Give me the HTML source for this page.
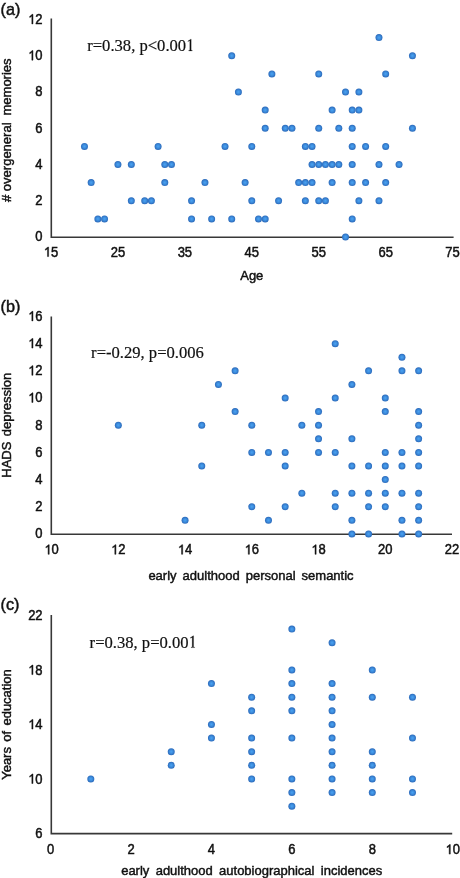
<!DOCTYPE html><html><head><meta charset="utf-8"><style>
html,body{margin:0;padding:0;background:#fff;width:460px;height:878px;overflow:hidden}
svg{display:block;will-change:transform}
.s{font-family:"Liberation Sans",sans-serif;font-size:13px;fill:#111;stroke:#111;stroke-width:0.45px}
.t{font-family:"Liberation Serif",serif;font-size:16.6px;fill:#111;stroke:#111;stroke-width:0.2px}
</style></head><body>
<svg width="460" height="878" viewBox="0 0 460 878">
<defs><path id="one" transform="scale(0.006348 -0.006348)" fill="#111" stroke="#111" stroke-width="70" d="M763 0L583 0L583 1147Q518 1085 415 1024Q312 963 244 938L244 1112Q367 1170 467 1259Q568 1348 628 1409L763 1409Z"/><path id="sone" transform="scale(0.0081055 -0.0081055)" fill="#111" stroke="#111" stroke-width="25" d="M627 80L760 58V0H320V58L455 80V1174L220 1090V1135L575 1352H627Z"/><radialGradient id="dg"><stop offset="0" stop-color="#4aa2f4"/><stop offset="0.5" stop-color="#3d8ddc"/><stop offset="0.85" stop-color="#3073c5"/><stop offset="1" stop-color="#2b6ab9"/></radialGradient></defs>

<text class="s" x="0.6" y="14.6" style="font-size:16.2px">(a)</text>
<path d="M51.3 18.6V237.2H453.6" fill="none" stroke="#383838" stroke-width="1.6"/>
<g transform="translate(35.37 241.40) scale(1 1.07)"><text class="s" x="0.00" y="0">0</text></g>
<g transform="translate(35.37 205.15) scale(1 1.07)"><text class="s" x="0.00" y="0">2</text></g>
<g transform="translate(35.37 168.90) scale(1 1.07)"><text class="s" x="0.00" y="0">4</text></g>
<g transform="translate(35.37 132.65) scale(1 1.07)"><text class="s" x="0.00" y="0">6</text></g>
<g transform="translate(35.37 96.40) scale(1 1.07)"><text class="s" x="0.00" y="0">8</text></g>
<g transform="translate(28.14 60.15) scale(1 1.07)"><use href="#one" x="0.00"/><text class="s" x="7.23" y="0">0</text></g>
<g transform="translate(28.14 23.90) scale(1 1.07)"><use href="#one" x="0.00"/><text class="s" x="7.23" y="0">2</text></g>
<g transform="translate(43.77 256.60) scale(1 1.07)"><use href="#one" x="0.00"/><text class="s" x="7.23" y="0">5</text></g>
<g transform="translate(110.70 256.60) scale(1 1.07)"><text class="s" x="0.00" y="0">2</text><text class="s" x="7.23" y="0">5</text></g>
<g transform="translate(177.64 256.60) scale(1 1.07)"><text class="s" x="0.00" y="0">3</text><text class="s" x="7.23" y="0">5</text></g>
<g transform="translate(244.57 256.60) scale(1 1.07)"><text class="s" x="0.00" y="0">4</text><text class="s" x="7.23" y="0">5</text></g>
<g transform="translate(311.50 256.60) scale(1 1.07)"><text class="s" x="0.00" y="0">5</text><text class="s" x="7.23" y="0">5</text></g>
<g transform="translate(378.44 256.60) scale(1 1.07)"><text class="s" x="0.00" y="0">6</text><text class="s" x="7.23" y="0">5</text></g>
<g transform="translate(445.37 256.60) scale(1 1.07)"><text class="s" x="0.00" y="0">7</text><text class="s" x="7.23" y="0">5</text></g>
<text class="s" transform="translate(11.2 130.2) rotate(-90)" text-anchor="middle" style="word-spacing:0px"># overgeneral<tspan dx="7">memories</tspan></text>
<text class="s" x="251.8" y="280.0" text-anchor="middle" style="word-spacing:0px">Age</text>
<g transform="translate(87.2 50.9) scale(1 1.07)"><text class="t" x="0" y="0">r=0.38, p&lt;0.00</text><use href="#sone" x="98.906"/></g>
<circle cx="84.47" cy="146.38" r="3.5" fill="url(#dg)"/>
<circle cx="91.16" cy="182.62" r="3.5" fill="url(#dg)"/>
<circle cx="97.85" cy="218.88" r="3.5" fill="url(#dg)"/>
<circle cx="104.55" cy="218.88" r="3.5" fill="url(#dg)"/>
<circle cx="117.93" cy="164.50" r="3.5" fill="url(#dg)"/>
<circle cx="131.32" cy="164.50" r="3.5" fill="url(#dg)"/>
<circle cx="131.32" cy="200.75" r="3.5" fill="url(#dg)"/>
<circle cx="144.71" cy="200.75" r="3.5" fill="url(#dg)"/>
<circle cx="151.40" cy="200.75" r="3.5" fill="url(#dg)"/>
<circle cx="158.09" cy="146.38" r="3.5" fill="url(#dg)"/>
<circle cx="164.79" cy="164.50" r="3.5" fill="url(#dg)"/>
<circle cx="171.48" cy="164.50" r="3.5" fill="url(#dg)"/>
<circle cx="164.79" cy="182.62" r="3.5" fill="url(#dg)"/>
<circle cx="191.56" cy="200.75" r="3.5" fill="url(#dg)"/>
<circle cx="191.56" cy="218.88" r="3.5" fill="url(#dg)"/>
<circle cx="204.95" cy="182.62" r="3.5" fill="url(#dg)"/>
<circle cx="211.64" cy="218.88" r="3.5" fill="url(#dg)"/>
<circle cx="225.03" cy="146.38" r="3.5" fill="url(#dg)"/>
<circle cx="231.72" cy="218.88" r="3.5" fill="url(#dg)"/>
<circle cx="245.11" cy="182.62" r="3.5" fill="url(#dg)"/>
<circle cx="251.80" cy="146.38" r="3.5" fill="url(#dg)"/>
<circle cx="251.80" cy="200.75" r="3.5" fill="url(#dg)"/>
<circle cx="258.49" cy="218.88" r="3.5" fill="url(#dg)"/>
<circle cx="265.19" cy="218.88" r="3.5" fill="url(#dg)"/>
<circle cx="265.19" cy="110.12" r="3.5" fill="url(#dg)"/>
<circle cx="265.19" cy="128.25" r="3.5" fill="url(#dg)"/>
<circle cx="278.57" cy="200.75" r="3.5" fill="url(#dg)"/>
<circle cx="285.27" cy="128.25" r="3.5" fill="url(#dg)"/>
<circle cx="291.96" cy="128.25" r="3.5" fill="url(#dg)"/>
<circle cx="305.35" cy="146.38" r="3.5" fill="url(#dg)"/>
<circle cx="298.65" cy="182.62" r="3.5" fill="url(#dg)"/>
<circle cx="305.35" cy="182.62" r="3.5" fill="url(#dg)"/>
<circle cx="305.35" cy="200.75" r="3.5" fill="url(#dg)"/>
<circle cx="231.72" cy="55.75" r="3.5" fill="url(#dg)"/>
<circle cx="271.88" cy="73.88" r="3.5" fill="url(#dg)"/>
<circle cx="238.41" cy="92.00" r="3.5" fill="url(#dg)"/>
<circle cx="378.97" cy="37.62" r="3.5" fill="url(#dg)"/>
<circle cx="412.44" cy="55.75" r="3.5" fill="url(#dg)"/>
<circle cx="318.73" cy="73.88" r="3.5" fill="url(#dg)"/>
<circle cx="385.67" cy="73.88" r="3.5" fill="url(#dg)"/>
<circle cx="345.51" cy="92.00" r="3.5" fill="url(#dg)"/>
<circle cx="358.89" cy="92.00" r="3.5" fill="url(#dg)"/>
<circle cx="332.12" cy="110.12" r="3.5" fill="url(#dg)"/>
<circle cx="352.20" cy="110.12" r="3.5" fill="url(#dg)"/>
<circle cx="358.89" cy="110.12" r="3.5" fill="url(#dg)"/>
<circle cx="318.73" cy="128.25" r="3.5" fill="url(#dg)"/>
<circle cx="338.81" cy="128.25" r="3.5" fill="url(#dg)"/>
<circle cx="352.20" cy="128.25" r="3.5" fill="url(#dg)"/>
<circle cx="412.44" cy="128.25" r="3.5" fill="url(#dg)"/>
<circle cx="312.04" cy="146.38" r="3.5" fill="url(#dg)"/>
<circle cx="352.20" cy="146.38" r="3.5" fill="url(#dg)"/>
<circle cx="365.59" cy="146.38" r="3.5" fill="url(#dg)"/>
<circle cx="385.67" cy="146.38" r="3.5" fill="url(#dg)"/>
<circle cx="312.04" cy="164.50" r="3.5" fill="url(#dg)"/>
<circle cx="318.73" cy="164.50" r="3.5" fill="url(#dg)"/>
<circle cx="325.43" cy="164.50" r="3.5" fill="url(#dg)"/>
<circle cx="332.12" cy="164.50" r="3.5" fill="url(#dg)"/>
<circle cx="338.81" cy="164.50" r="3.5" fill="url(#dg)"/>
<circle cx="352.20" cy="164.50" r="3.5" fill="url(#dg)"/>
<circle cx="378.97" cy="164.50" r="3.5" fill="url(#dg)"/>
<circle cx="399.05" cy="164.50" r="3.5" fill="url(#dg)"/>
<circle cx="312.04" cy="182.62" r="3.5" fill="url(#dg)"/>
<circle cx="332.12" cy="182.62" r="3.5" fill="url(#dg)"/>
<circle cx="352.20" cy="182.62" r="3.5" fill="url(#dg)"/>
<circle cx="365.59" cy="182.62" r="3.5" fill="url(#dg)"/>
<circle cx="385.67" cy="182.62" r="3.5" fill="url(#dg)"/>
<circle cx="318.73" cy="200.75" r="3.5" fill="url(#dg)"/>
<circle cx="325.43" cy="200.75" r="3.5" fill="url(#dg)"/>
<circle cx="358.89" cy="200.75" r="3.5" fill="url(#dg)"/>
<circle cx="378.97" cy="200.75" r="3.5" fill="url(#dg)"/>
<circle cx="352.20" cy="218.88" r="3.5" fill="url(#dg)"/>
<circle cx="345.51" cy="237.00" r="3.5" fill="url(#dg)"/>
<text class="s" x="0.6" y="312.4" style="font-size:16.2px">(b)</text>
<path d="M51.3 316.6V534.3H452.0" fill="none" stroke="#383838" stroke-width="1.6"/>
<g transform="translate(35.37 538.30) scale(1 1.07)"><text class="s" x="0.00" y="0">0</text></g>
<g transform="translate(35.37 511.12) scale(1 1.07)"><text class="s" x="0.00" y="0">2</text></g>
<g transform="translate(35.37 483.95) scale(1 1.07)"><text class="s" x="0.00" y="0">4</text></g>
<g transform="translate(35.37 456.77) scale(1 1.07)"><text class="s" x="0.00" y="0">6</text></g>
<g transform="translate(35.37 429.60) scale(1 1.07)"><text class="s" x="0.00" y="0">8</text></g>
<g transform="translate(28.14 402.42) scale(1 1.07)"><use href="#one" x="0.00"/><text class="s" x="7.23" y="0">0</text></g>
<g transform="translate(28.14 375.25) scale(1 1.07)"><use href="#one" x="0.00"/><text class="s" x="7.23" y="0">2</text></g>
<g transform="translate(28.14 348.07) scale(1 1.07)"><use href="#one" x="0.00"/><text class="s" x="7.23" y="0">4</text></g>
<g transform="translate(28.14 320.90) scale(1 1.07)"><use href="#one" x="0.00"/><text class="s" x="7.23" y="0">6</text></g>
<g transform="translate(44.37 554.30) scale(1 1.07)"><use href="#one" x="0.00"/><text class="s" x="7.23" y="0">0</text></g>
<g transform="translate(111.10 554.30) scale(1 1.07)"><use href="#one" x="0.00"/><text class="s" x="7.23" y="0">2</text></g>
<g transform="translate(177.84 554.30) scale(1 1.07)"><use href="#one" x="0.00"/><text class="s" x="7.23" y="0">4</text></g>
<g transform="translate(244.57 554.30) scale(1 1.07)"><use href="#one" x="0.00"/><text class="s" x="7.23" y="0">6</text></g>
<g transform="translate(311.30 554.30) scale(1 1.07)"><use href="#one" x="0.00"/><text class="s" x="7.23" y="0">8</text></g>
<g transform="translate(378.04 554.30) scale(1 1.07)"><text class="s" x="0.00" y="0">2</text><text class="s" x="7.23" y="0">0</text></g>
<g transform="translate(444.77 554.30) scale(1 1.07)"><text class="s" x="0.00" y="0">2</text><text class="s" x="7.23" y="0">2</text></g>
<text class="s" transform="translate(11.2 425.2) rotate(-90)" text-anchor="middle" style="word-spacing:1.7px">HADS depression</text>
<text class="s" x="251.0" y="580.0" text-anchor="middle" style="word-spacing:2.4px">early adulthood personal semantic</text>
<g transform="translate(91.1 357.9) scale(1 1.07)"><text class="t" x="0" y="0">r=-0.29, p=0.006</text></g>
<circle cx="335.22" cy="343.68" r="3.5" fill="url(#dg)"/>
<circle cx="401.95" cy="357.26" r="3.5" fill="url(#dg)"/>
<circle cx="235.12" cy="370.85" r="3.5" fill="url(#dg)"/>
<circle cx="368.58" cy="370.85" r="3.5" fill="url(#dg)"/>
<circle cx="401.95" cy="370.85" r="3.5" fill="url(#dg)"/>
<circle cx="418.63" cy="370.85" r="3.5" fill="url(#dg)"/>
<circle cx="218.43" cy="384.44" r="3.5" fill="url(#dg)"/>
<circle cx="351.90" cy="384.44" r="3.5" fill="url(#dg)"/>
<circle cx="285.17" cy="398.02" r="3.5" fill="url(#dg)"/>
<circle cx="335.22" cy="398.02" r="3.5" fill="url(#dg)"/>
<circle cx="385.27" cy="398.02" r="3.5" fill="url(#dg)"/>
<circle cx="235.12" cy="411.61" r="3.5" fill="url(#dg)"/>
<circle cx="318.53" cy="411.61" r="3.5" fill="url(#dg)"/>
<circle cx="385.27" cy="411.61" r="3.5" fill="url(#dg)"/>
<circle cx="418.63" cy="411.61" r="3.5" fill="url(#dg)"/>
<circle cx="118.33" cy="425.20" r="3.5" fill="url(#dg)"/>
<circle cx="201.75" cy="425.20" r="3.5" fill="url(#dg)"/>
<circle cx="251.80" cy="425.20" r="3.5" fill="url(#dg)"/>
<circle cx="301.85" cy="425.20" r="3.5" fill="url(#dg)"/>
<circle cx="318.53" cy="425.20" r="3.5" fill="url(#dg)"/>
<circle cx="418.63" cy="425.20" r="3.5" fill="url(#dg)"/>
<circle cx="318.53" cy="438.79" r="3.5" fill="url(#dg)"/>
<circle cx="351.90" cy="438.79" r="3.5" fill="url(#dg)"/>
<circle cx="418.63" cy="438.79" r="3.5" fill="url(#dg)"/>
<circle cx="251.80" cy="452.38" r="3.5" fill="url(#dg)"/>
<circle cx="268.48" cy="452.38" r="3.5" fill="url(#dg)"/>
<circle cx="285.17" cy="452.38" r="3.5" fill="url(#dg)"/>
<circle cx="318.53" cy="452.38" r="3.5" fill="url(#dg)"/>
<circle cx="335.22" cy="452.38" r="3.5" fill="url(#dg)"/>
<circle cx="385.27" cy="452.38" r="3.5" fill="url(#dg)"/>
<circle cx="401.95" cy="452.38" r="3.5" fill="url(#dg)"/>
<circle cx="418.63" cy="452.38" r="3.5" fill="url(#dg)"/>
<circle cx="201.75" cy="465.96" r="3.5" fill="url(#dg)"/>
<circle cx="285.17" cy="465.96" r="3.5" fill="url(#dg)"/>
<circle cx="351.90" cy="465.96" r="3.5" fill="url(#dg)"/>
<circle cx="368.58" cy="465.96" r="3.5" fill="url(#dg)"/>
<circle cx="385.27" cy="465.96" r="3.5" fill="url(#dg)"/>
<circle cx="401.95" cy="465.96" r="3.5" fill="url(#dg)"/>
<circle cx="418.63" cy="465.96" r="3.5" fill="url(#dg)"/>
<circle cx="385.27" cy="479.55" r="3.5" fill="url(#dg)"/>
<circle cx="301.85" cy="493.14" r="3.5" fill="url(#dg)"/>
<circle cx="335.22" cy="493.14" r="3.5" fill="url(#dg)"/>
<circle cx="351.90" cy="493.14" r="3.5" fill="url(#dg)"/>
<circle cx="368.58" cy="493.14" r="3.5" fill="url(#dg)"/>
<circle cx="385.27" cy="493.14" r="3.5" fill="url(#dg)"/>
<circle cx="401.95" cy="493.14" r="3.5" fill="url(#dg)"/>
<circle cx="418.63" cy="493.14" r="3.5" fill="url(#dg)"/>
<circle cx="251.80" cy="506.72" r="3.5" fill="url(#dg)"/>
<circle cx="285.17" cy="506.72" r="3.5" fill="url(#dg)"/>
<circle cx="335.22" cy="506.72" r="3.5" fill="url(#dg)"/>
<circle cx="368.58" cy="506.72" r="3.5" fill="url(#dg)"/>
<circle cx="385.27" cy="506.72" r="3.5" fill="url(#dg)"/>
<circle cx="418.63" cy="506.72" r="3.5" fill="url(#dg)"/>
<circle cx="185.07" cy="520.31" r="3.5" fill="url(#dg)"/>
<circle cx="268.48" cy="520.31" r="3.5" fill="url(#dg)"/>
<circle cx="351.90" cy="520.31" r="3.5" fill="url(#dg)"/>
<circle cx="401.95" cy="520.31" r="3.5" fill="url(#dg)"/>
<circle cx="418.63" cy="520.31" r="3.5" fill="url(#dg)"/>
<circle cx="351.90" cy="533.90" r="3.5" fill="url(#dg)"/>
<circle cx="368.58" cy="533.90" r="3.5" fill="url(#dg)"/>
<circle cx="401.95" cy="533.90" r="3.5" fill="url(#dg)"/>
<circle cx="418.63" cy="533.90" r="3.5" fill="url(#dg)"/>
<text class="s" x="0.6" y="610.0" style="font-size:16.2px">(c)</text>
<path d="M51.3 615.0V833.6H452.2" fill="none" stroke="#383838" stroke-width="1.6"/>
<g transform="translate(35.37 838.00) scale(1 1.07)"><text class="s" x="0.00" y="0">6</text></g>
<g transform="translate(28.14 783.52) scale(1 1.07)"><use href="#one" x="0.00"/><text class="s" x="7.23" y="0">0</text></g>
<g transform="translate(28.14 729.05) scale(1 1.07)"><use href="#one" x="0.00"/><text class="s" x="7.23" y="0">4</text></g>
<g transform="translate(28.14 674.58) scale(1 1.07)"><use href="#one" x="0.00"/><text class="s" x="7.23" y="0">8</text></g>
<g transform="translate(28.14 620.10) scale(1 1.07)"><text class="s" x="0.00" y="0">2</text><text class="s" x="7.23" y="0">2</text></g>
<g transform="translate(46.99 854.10) scale(1 1.07)"><text class="s" x="0.00" y="0">0</text></g>
<g transform="translate(127.41 854.10) scale(1 1.07)"><text class="s" x="0.00" y="0">2</text></g>
<g transform="translate(207.83 854.10) scale(1 1.07)"><text class="s" x="0.00" y="0">4</text></g>
<g transform="translate(288.25 854.10) scale(1 1.07)"><text class="s" x="0.00" y="0">6</text></g>
<g transform="translate(368.67 854.10) scale(1 1.07)"><text class="s" x="0.00" y="0">8</text></g>
<g transform="translate(445.47 854.10) scale(1 1.07)"><use href="#one" x="0.00"/><text class="s" x="7.23" y="0">0</text></g>
<text class="s" transform="translate(11.2 724.5) rotate(-90)" text-anchor="middle" style="word-spacing:1.7px">Years of education</text>
<text class="s" x="251.7" y="875.0" text-anchor="middle" style="word-spacing:2.7px">early adulthood autobiographical incidences</text>
<g transform="translate(89.6 647.6) scale(1 1.07)"><text class="t" x="0" y="0">r=0.38, p=0.00</text><use href="#sone" x="98.906"/></g>
<circle cx="90.81" cy="778.92" r="3.5" fill="url(#dg)"/>
<circle cx="171.23" cy="751.69" r="3.5" fill="url(#dg)"/>
<circle cx="171.23" cy="765.31" r="3.5" fill="url(#dg)"/>
<circle cx="211.44" cy="683.59" r="3.5" fill="url(#dg)"/>
<circle cx="211.44" cy="724.45" r="3.5" fill="url(#dg)"/>
<circle cx="211.44" cy="738.07" r="3.5" fill="url(#dg)"/>
<circle cx="251.65" cy="697.21" r="3.5" fill="url(#dg)"/>
<circle cx="251.65" cy="710.83" r="3.5" fill="url(#dg)"/>
<circle cx="251.65" cy="738.07" r="3.5" fill="url(#dg)"/>
<circle cx="251.65" cy="751.69" r="3.5" fill="url(#dg)"/>
<circle cx="251.65" cy="765.31" r="3.5" fill="url(#dg)"/>
<circle cx="251.65" cy="778.92" r="3.5" fill="url(#dg)"/>
<circle cx="291.86" cy="629.12" r="3.5" fill="url(#dg)"/>
<circle cx="291.86" cy="669.98" r="3.5" fill="url(#dg)"/>
<circle cx="291.86" cy="683.59" r="3.5" fill="url(#dg)"/>
<circle cx="291.86" cy="697.21" r="3.5" fill="url(#dg)"/>
<circle cx="291.86" cy="710.83" r="3.5" fill="url(#dg)"/>
<circle cx="291.86" cy="738.07" r="3.5" fill="url(#dg)"/>
<circle cx="291.86" cy="778.92" r="3.5" fill="url(#dg)"/>
<circle cx="291.86" cy="792.54" r="3.5" fill="url(#dg)"/>
<circle cx="291.86" cy="806.16" r="3.5" fill="url(#dg)"/>
<circle cx="332.07" cy="642.74" r="3.5" fill="url(#dg)"/>
<circle cx="332.07" cy="683.59" r="3.5" fill="url(#dg)"/>
<circle cx="332.07" cy="697.21" r="3.5" fill="url(#dg)"/>
<circle cx="332.07" cy="710.83" r="3.5" fill="url(#dg)"/>
<circle cx="332.07" cy="724.45" r="3.5" fill="url(#dg)"/>
<circle cx="332.07" cy="738.07" r="3.5" fill="url(#dg)"/>
<circle cx="332.07" cy="751.69" r="3.5" fill="url(#dg)"/>
<circle cx="332.07" cy="765.31" r="3.5" fill="url(#dg)"/>
<circle cx="332.07" cy="778.92" r="3.5" fill="url(#dg)"/>
<circle cx="332.07" cy="792.54" r="3.5" fill="url(#dg)"/>
<circle cx="372.28" cy="669.98" r="3.5" fill="url(#dg)"/>
<circle cx="372.28" cy="697.21" r="3.5" fill="url(#dg)"/>
<circle cx="372.28" cy="751.69" r="3.5" fill="url(#dg)"/>
<circle cx="372.28" cy="765.31" r="3.5" fill="url(#dg)"/>
<circle cx="372.28" cy="778.92" r="3.5" fill="url(#dg)"/>
<circle cx="372.28" cy="792.54" r="3.5" fill="url(#dg)"/>
<circle cx="412.49" cy="697.21" r="3.5" fill="url(#dg)"/>
<circle cx="412.49" cy="738.07" r="3.5" fill="url(#dg)"/>
<circle cx="412.49" cy="778.92" r="3.5" fill="url(#dg)"/>
<circle cx="412.49" cy="792.54" r="3.5" fill="url(#dg)"/>
</svg></body></html>
